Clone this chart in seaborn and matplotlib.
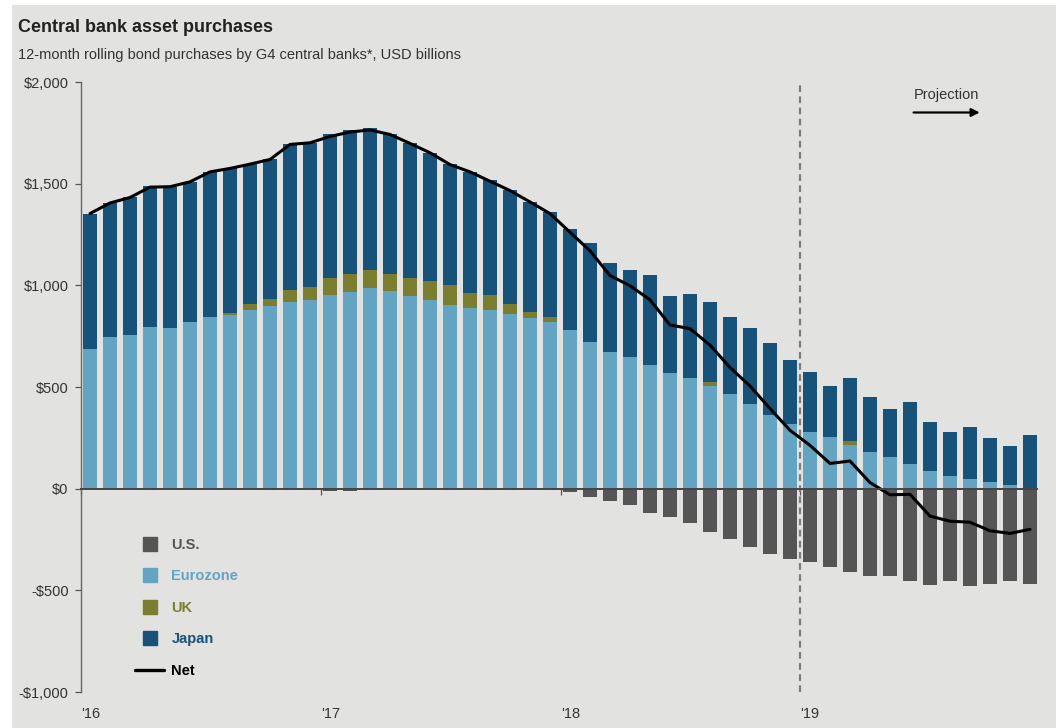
import matplotlib
matplotlib.use("Agg")
import matplotlib.pyplot as plt
from matplotlib.lines import Line2D
from matplotlib.patches import Rectangle
import seaborn as sns
import pandas as pd
import numpy as np

sns.set_theme(style="white")
plt.rcParams['font.family'] = ['Liberation Sans', 'DejaVu Sans']

# monthly, Jan 2016 .. Dec 2019 (USD bn, 12m rolling)
months = [f"{y}-{m:02d}" for y in range(2016, 2020) for m in range(1, 13)]

eurozone = [688, 745, 757, 795, 791, 819, 844, 852, 880, 896, 918, 929,
            951, 965, 989, 970, 946, 929, 901, 890, 877, 860, 841, 819,
            782, 721, 672, 647, 609, 568, 543, 507, 466, 417, 364, 319,
            277, 253, 217, 179, 154, 121, 85, 64, 48, 31, 18, 3]
uk = [0, 0, 0, 0, 0, 0, 0, 10, 30, 35, 57, 63,
      87, 89, 85, 87, 92, 91, 102, 72, 74, 50, 28, 25,
      0, 0, 0, 0, 0, 0, 0, 17, 0, 0, 0, 0,
      0, 0, 15, 0, 0, 0, 0, 0, 0, 0, 0, 0]
japan = [665, 660, 675, 693, 694, 690, 714, 713, 686, 688, 718, 709,
         706, 710, 698, 685, 660, 632, 596, 596, 566, 561, 541, 517,
         497, 488, 438, 430, 440, 378, 413, 394, 378, 374, 352, 315,
         296, 254, 313, 271, 238, 304, 245, 217, 254, 217, 194, 261]
us = [0, 0, 0, -5, 0, 0, 0, -4, 0, -6, -8, -8,
      -12, -10, -8, 0, 0, 0, -5, 0, -5, -5, 0, -8,
      -18, -39, -62, -79, -120, -141, -169, -212, -248, -286, -322, -347,
      -360, -383, -409, -429, -429, -453, -473, -456, -478, -470, -453, -470]
net = [1353, 1405, 1432, 1483, 1485, 1509, 1558, 1575, 1596, 1619, 1693, 1701,
       1732, 1754, 1764, 1742, 1698, 1652, 1594, 1558, 1512, 1466, 1410, 1353,
       1261, 1170, 1048, 998, 929, 805, 787, 706, 596, 505, 394, 287,
       213, 124, 136, 30, -30, -28, -135, -160, -165, -207, -220, -200]

year_labels = ["'16", "'17", "'18", "'19"]
y_ticks = [-1000, -500, 0, 500, 1000, 1500, 2000]
y_labels = ["-$1,000", "-$500", "$0", "$500", "$1,000", "$1,500", "$2,000"]
series_names = ["U.S.", "Eurozone", "UK", "Japan", "Net"]

c_us = "#555555"
c_eu = "#63a4c3"
c_uk = "#7a7e2e"
c_jp = "#17527a"
bg = "#e2e2e0"

df = pd.DataFrame({"month": months, "eurozone": eurozone, "uk": uk,
                   "japan": japan, "us": us})
# stacked by overlaying cumulative tops
df["eu_top"] = df["eurozone"]
df["uk_top"] = df["eurozone"] + df["uk"]
df["jp_top"] = df["uk_top"] + df["japan"]

fig = plt.figure(figsize=(10.56, 7.28), dpi=100, facecolor="white")
fig.patches.append(Rectangle((12 / 1056, 0), 1, 1 - 5 / 728, transform=fig.transFigure,
                             facecolor=bg, edgecolor="none", zorder=-10))
ax = fig.add_axes([81 / 1056, 1 - 692 / 728, (1037 - 81) / 1056, (692 - 82) / 728])
ax.set_facecolor(bg)

bw = 0.68
for col, c in [("jp_top", c_jp), ("uk_top", c_uk), ("eu_top", c_eu), ("us", c_us)]:
    sns.barplot(data=df, x="month", y=col, color=c, width=bw, saturation=1,
                errorbar=None, ax=ax, zorder=2, linewidth=0)

sns.lineplot(x=np.arange(len(months)), y=net, color="black", lw=2.2, ax=ax, zorder=4)

ax.axvline(35.5, color="#7d7d7d", lw=1.6, ls=(0, (3, 2)), zorder=3)

ax.set_xlim(-0.35, 47.35)
ax.set_ylim(-1000, 2000)
ax.set_xlabel("")
ax.set_ylabel("")

ax.set_yticks(y_ticks, labels=y_labels)
ax.tick_params(axis="y", direction="out", length=4, width=0.9, color="#555555",
               pad=5, labelsize=10.5, labelcolor="#333333", left=True)

year_pos = [-0.45, 11.55, 23.55, 35.5]
ax.set_xticks(year_pos)
ax.tick_params(axis="x", direction="out", length=4, width=0.9, color="#555555",
               labelbottom=False, bottom=True)

for s in ["top", "right"]:
    ax.spines[s].set_visible(False)
ax.spines["left"].set_color("#666666")
ax.spines["left"].set_linewidth(1.0)
ax.spines["bottom"].set_position(("data", 0))
ax.spines["bottom"].set_color("#444444")
ax.spines["bottom"].set_linewidth(1.4)
ax.spines["bottom"].set_zorder(5)

secax = ax.secondary_xaxis("bottom")
secax.set_xticks(year_pos, labels=year_labels)
secax.tick_params(length=0, pad=11, labelsize=10.5, labelcolor="#333333")
secax.spines["bottom"].set_visible(False)
for t in secax.get_xticklabels():
    t.set_horizontalalignment("left")

colors = [c_us, c_eu, c_uk, c_jp]
handles = [Line2D([], [], ls="", marker="s", ms=10, mfc=c, mec=c) for c in colors]
handles.append(Line2D([], [], color="black", lw=2.4))
leg = ax.legend(handles, series_names, loc="upper left",
                bbox_to_anchor=(135 / 1056, 1 - 538 / 728), bbox_transform=fig.transFigure,
                frameon=False, fontsize=10.5, handlelength=2.0, handletextpad=0.5,
                labelspacing=1.2, borderpad=0, borderaxespad=0)
for t, c in zip(leg.get_texts(), colors + ["black"]):
    t.set_color(c)
    t.set_fontweight("bold")

ax.annotate("", xy=(0.943, 0.95), xytext=(0.868, 0.95), xycoords="axes fraction",
            arrowprops=dict(arrowstyle="-|>", color="black", lw=1.6, mutation_scale=12))
ax.text(0.905, 0.978, "Projection", transform=ax.transAxes, ha="center", va="center",
        fontsize=10.5, color="#333333")

fig.text(18 / 1056, 1 - 28 / 728, "Central bank asset purchases", fontsize=13,
         fontweight="bold", color="#222222", va="center", ha="left")
fig.text(18 / 1056, 1 - 55 / 728,
         "12-month rolling bond purchases by G4 central banks*, USD billions",
         fontsize=10.5, color="#333333", va="center", ha="left")

fig.savefig("out.png", dpi=100, facecolor=fig.get_facecolor())
